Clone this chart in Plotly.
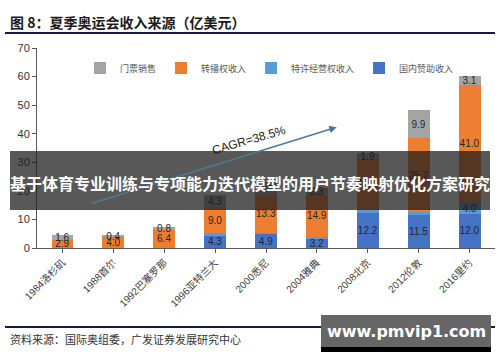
import plotly.graph_objects as go

categories = ["1984洛杉矶", "1988首尔", "1992巴塞罗那", "1996亚特兰大", "2000悉尼",
              "2004雅典", "2008北京", "2012伦敦", "2016里约"]
domestic_sponsorship = [0.0, 0.0, 0.0, 4.3, 4.9, 3.2, 12.2, 11.5, 12.0]   # 国内赞助收入
licensing = [0.0, 0.0, 0.0, 0.9, 0.5, 0.6, 1.6, 1.2, 4.0]                 # 特许经营权收入
broadcast = [2.9, 4.0, 6.4, 9.0, 13.3, 14.9, 17.4, 25.7, 41.0]           # 转播权收入
ticketing = [1.6, 0.4, 0.8, 4.3, 5.5, 2.3, 1.9, 9.9, 3.1]                # 门票销售
licensing_labels = ["", "", "", "", "", "", "", "", "4.0"]

y_ticks = [0, 10, 20, 30, 40, 50, 60, 70]

W, H = 500, 362
L, R, T, B = 37, 5, 48, 114
PW, PH = W - L - R, H - T - B


def px(x):
    return (x - L) / PW


def py(y):
    return (H - B - y) / PH


def fmt(vals):
    return [f"{v:.1f}" if v > 0 else "" for v in vals]


label_font = dict(family="Liberation Sans, Arial", size=10, color="#262626")

fig = go.Figure()
series = [
    ("国内赞助收入", domestic_sponsorship, "#4472C4", fmt(domestic_sponsorship)),
    ("特许经营权收入", licensing, "#5B9BD5", licensing_labels),
    ("转播权收入", broadcast, "#ED7D31", fmt(broadcast)),
    ("门票销售", ticketing, "#A5A5A5", fmt(ticketing)),
]
for name, vals, color, labels in series:
    fig.add_trace(go.Bar(
        x=categories, y=vals, name=name, marker=dict(color=color, line=dict(width=0)),
        text=labels, textposition="inside", insidetextanchor="middle", textangle=0,
        textfont=label_font, hoverinfo="skip",
    ))

annotations = [
    dict(text="<b>图 8：夏季奥运会收入来源（亿美元）</b>", xref="paper", yref="paper",
         x=px(8), y=py(22), xanchor="left", yanchor="middle", showarrow=False,
         font=dict(family="Noto Sans CJK SC", size=14, color="#1a1a1a")),
    dict(text="资料来源：国际奥组委，广发证券发展研究中心", xref="paper", yref="paper",
         x=px(8), y=py(339), xanchor="left", yanchor="middle", showarrow=False,
         font=dict(family="Noto Sans CJK SC", size=11, color="#333333")),
    # CAGR arrow
    dict(x=5.39, y=42.3, ax=0.54, ay=15.4, xref="x", yref="y", axref="x", ayref="y",
         text="", showarrow=True, arrowhead=2, arrowsize=1, arrowwidth=1.5,
         arrowcolor="#4A7A96"),
    dict(text="CAGR=38.5%", x=3.67, y=37.8, xref="x", yref="y", showarrow=False,
         textangle=-16, font=dict(family="Liberation Sans, Arial", size=12, color="#1a1a1a")),
]

shapes = [
    dict(type="line", xref="paper", yref="paper", x0=px(5), x1=px(495), y0=py(33), y1=py(33),
         line=dict(color="#141a45", width=2)),
    dict(type="line", xref="paper", yref="paper", x0=px(5), x1=px(495), y0=py(327), y1=py(327),
         line=dict(color="#141a45", width=2)),
    # overlay banner
    dict(type="rect", xref="paper", yref="paper", x0=px(10), x1=px(490), y0=py(151), y1=py(210),
         fillcolor="rgba(30,30,30,0.74)", line=dict(width=0), layer="above"),
    # watermark box
    dict(type="rect", xref="paper", yref="paper", x0=px(321), x1=px(491), y0=py(315), y1=py(347),
         fillcolor="#666666", line=dict(width=0), layer="above"),
    dict(type="rect", xref="paper", yref="paper", x0=px(321), x1=px(491), y0=py(347), y1=py(352),
         fillcolor="#000000", line=dict(width=0), layer="above"),
]

annotations += [
    dict(text="<b>基于体育专业训练与专项能力迭代模型的用户节奏映射优化方案研究</b>", xref="paper", yref="paper",
         x=px(250), y=py(183), xanchor="center", yanchor="middle", showarrow=False,
         font=dict(family="Noto Sans CJK SC", size=16, color="#ffffff")),
    dict(text="<b>www.pmvip1.com</b>", xref="paper", yref="paper",
         x=px(406), y=py(331), xanchor="center", yanchor="middle", showarrow=False,
         font=dict(family="DejaVu Sans", size=16, color="#ffffff")),
]

fig.update_layout(
    width=W, height=H,
    margin=dict(l=L, r=R, t=T, b=B, autoexpand=False),
    barmode="stack", bargap=0.57,
    paper_bgcolor="white", plot_bgcolor="white",
    showlegend=True,
    legend=dict(orientation="h", traceorder="reversed", x=px(80), y=py(68),
                xanchor="left", yanchor="middle", font=dict(family="Noto Sans CJK SC", size=9, color="#595959"),
                itemwidth=30, bgcolor="rgba(0,0,0,0)", tracegroupgap=0),
    uniformtext=dict(minsize=10, mode="show"),
    annotations=annotations,
    shapes=shapes,
    xaxis=dict(type="category", showline=True, linecolor="#595959", linewidth=1,
               ticks="outside", ticklen=4, tickcolor="#595959", tickangle=-45,
               tickfont=dict(family="Liberation Sans, Noto Sans CJK SC", size=10, color="#404040"),
               showgrid=False, zeroline=False),
    yaxis=dict(range=[0, 70], tickvals=y_ticks, showline=True, linecolor="#595959", linewidth=1,
               ticks="outside", ticklen=4, tickcolor="#595959",
               tickfont=dict(family="Liberation Sans, Arial", size=11, color="#333333"),
               showgrid=False, zeroline=False),
)

fig.write_html("out.html", config={"displayModeBar": False},
               post_script="document.body.style.margin='0';")
